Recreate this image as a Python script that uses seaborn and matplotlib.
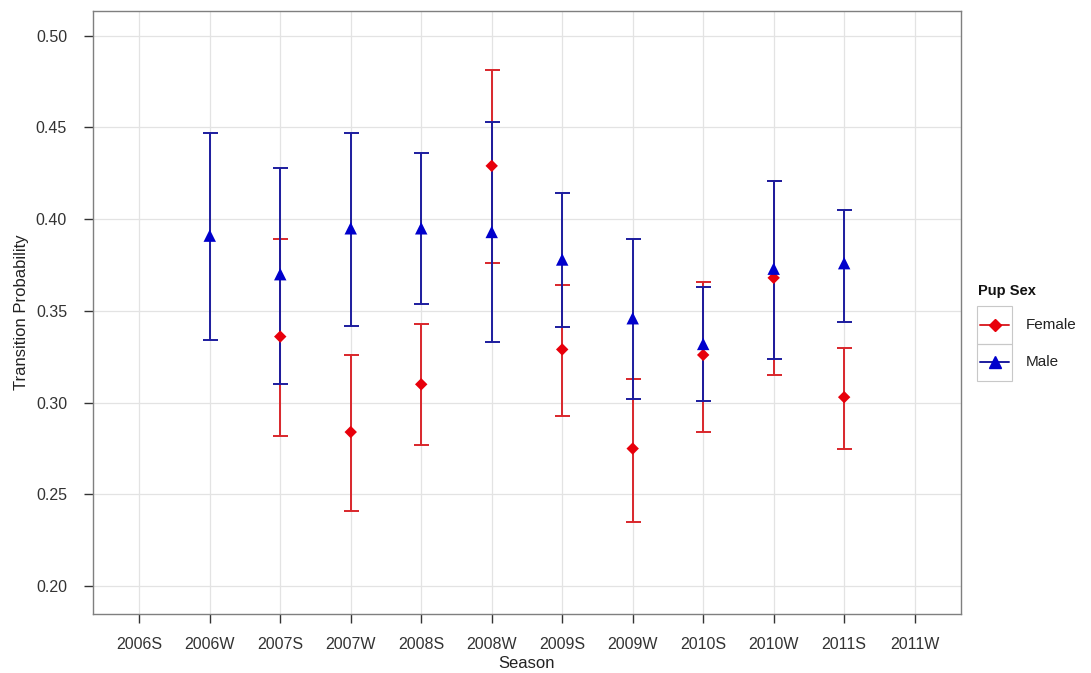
import numpy as np
import pandas as pd
import matplotlib
matplotlib.use('Agg')
import matplotlib.pyplot as plt
from matplotlib.lines import Line2D
from matplotlib.patches import Rectangle
import seaborn as sns

seasons = ['2006S', '2006W', '2007S', '2007W', '2008S', '2008W',
           '2009S', '2009W', '2010S', '2010W', '2011S', '2011W']

# Female estimates (nan = no estimate)
female_est = [np.nan, np.nan, 0.336, 0.284, 0.310, 0.429, 0.329, 0.275, 0.326, 0.368, 0.303, np.nan]
female_lo = [np.nan, np.nan, 0.282, 0.241, 0.277, 0.376, 0.293, 0.235, 0.284, 0.315, 0.275, np.nan]
female_hi = [np.nan, np.nan, 0.389, 0.326, 0.343, 0.481, 0.364, 0.313, 0.366, 0.421, 0.330, np.nan]

# Male estimates
male_est = [np.nan, 0.391, 0.370, 0.395, 0.395, 0.393, 0.378, 0.346, 0.332, 0.373, 0.376, np.nan]
male_lo = [np.nan, 0.334, 0.310, 0.342, 0.354, 0.333, 0.341, 0.302, 0.301, 0.324, 0.344, np.nan]
male_hi = [np.nan, 0.447, 0.428, 0.447, 0.436, 0.453, 0.414, 0.389, 0.363, 0.421, 0.405, np.nan]

sex_labels = ['Female', 'Male']
point_colors = {'Female': '#E8000B', 'Male': '#0000CC'}
bar_colors = {'Female': '#D9262B', 'Male': '#1C1C9E'}
markers = {'Female': 'D', 'Male': '^'}

df = pd.DataFrame({
    'season': seasons * 2,
    'pos': list(range(len(seasons))) * 2,
    'sex': ['Female'] * len(seasons) + ['Male'] * len(seasons),
    'est': female_est + male_est,
    'lo': female_lo + male_lo,
    'hi': female_hi + male_hi,
}).dropna()

sns.set_theme(style='whitegrid')
plt.rcParams['font.family'] = ['Liberation Sans', 'DejaVu Sans']

fig = plt.figure(figsize=(10.91, 6.73), dpi=100)
ax = fig.add_axes([0.085, 0.088, 0.796, 0.896])

#error bars first, male drawn over female
for sex in sex_labels:
    d = df[df['sex'] == sex]
    ax.errorbar(d['pos'], d['est'], yerr=[d['est'] - d['lo'], d['hi'] - d['est']],
                fmt='none', ecolor=bar_colors[sex], elinewidth=1.4, capsize=5.4,
                capthick=1.4, zorder=2)

sns.scatterplot(data=df, x='pos', y='est', hue='sex', style='sex',
                hue_order=sex_labels, style_order=sex_labels,
                palette=point_colors, markers=markers,
                size='sex', sizes={'Female': 40, 'Male': 80},
                edgecolor='none', linewidth=0, legend=False, zorder=3, ax=ax)

ax.set_xlim(-0.66, len(seasons) - 1 + 0.66)
ax.set_ylim(0.185, 0.5135)
ax.set_xticks(range(len(seasons)))
ax.set_xticklabels(seasons)
ax.set_yticks([0.20, 0.25, 0.30, 0.35, 0.40, 0.45, 0.50])
ax.set_yticklabels(['0.20', '0.25', '0.30', '0.35', '0.40', '0.45', '0.50'])

ax.set_facecolor('white')
ax.grid(True, color='#E3E3E3', linewidth=0.9)
for sp in ax.spines.values():
    sp.set_color('#7F7F7F')
    sp.set_linewidth(1.0)
ax.tick_params(axis='both', which='major', direction='out', length=6.5, width=1,
               color='#333333', labelcolor='#333333', labelsize=11.5,
               bottom=True, left=True)
ax.tick_params(axis='y', pad=12)
ax.tick_params(axis='x', pad=10)

ax.set_xlabel('Season', fontsize=12, color='#222222', va='top')
ax.xaxis.set_label_coords(0.5, -0.0695)
ax.set_ylabel('Transition Probability', fontsize=12, color='#222222', labelpad=5)

#legend drawn by hand to look like ggplot keys
W, H = fig.get_size_inches() * fig.dpi
def fx(px):
    return px / W
def fy(py):
    return 1 - py / H

fig.text(fx(978), fy(291), 'Pup Sex', fontsize=10.5, fontweight='bold',
         color='#111111', va='center', ha='left')
key_sizes = {'Female': 6, 'Male': 8.5}
for i, s in enumerate(sex_labels):
    top = 306 + i * 37.5
    fig.patches.append(Rectangle((fx(977), fy(top + 37.5)), fx(35), 37.5 / H,
                                 transform=fig.transFigure, fill=False,
                                 edgecolor='#C8C8C8', linewidth=0.8))
    cy = fy(top + 18.75)
    fig.lines.append(Line2D([fx(980), fx(1009)], [cy, cy], transform=fig.transFigure,
                            color=bar_colors[s], lw=1.4))
    fig.lines.append(Line2D([fx(994.5)], [cy], transform=fig.transFigure,
                            marker=markers[s], color=point_colors[s],
                            markersize=key_sizes[s], linestyle='none'))
    fig.text(fx(1026), cy, s, fontsize=11, color='#222222', va='center', ha='left')

fig.savefig('out.png', dpi=100)
